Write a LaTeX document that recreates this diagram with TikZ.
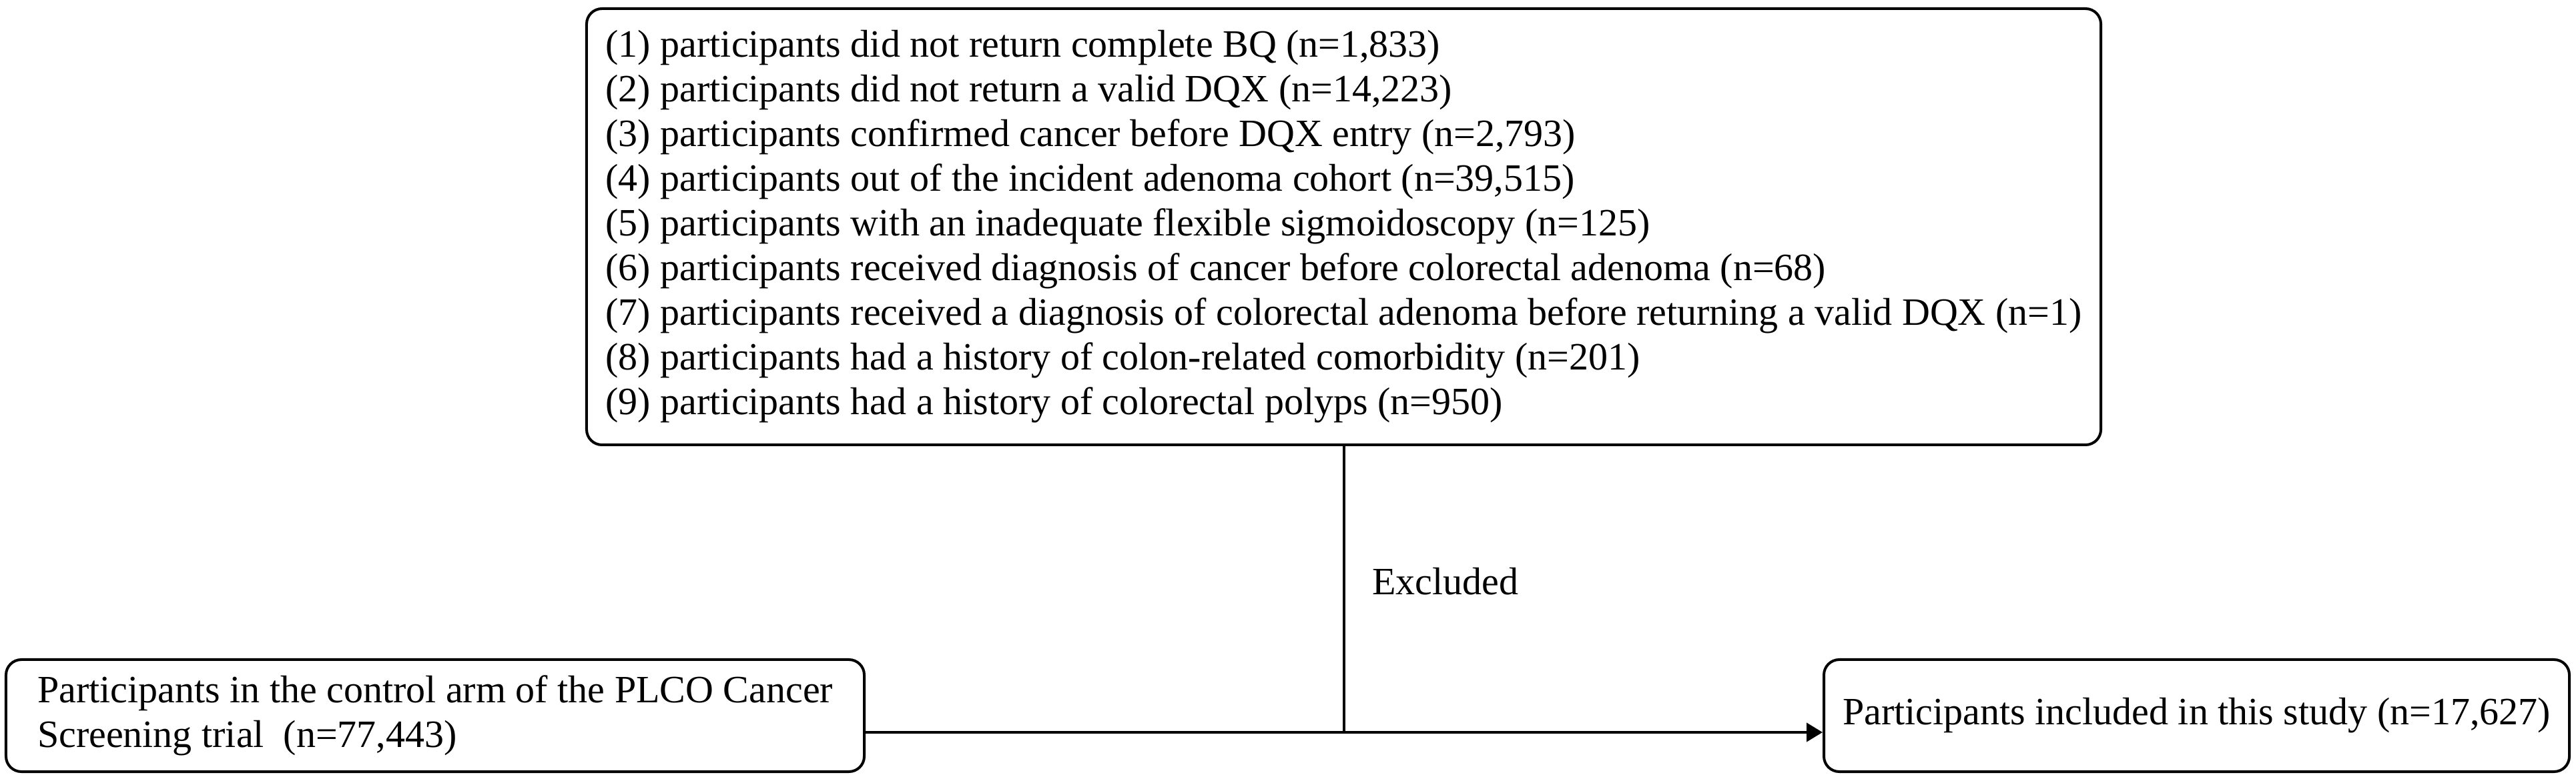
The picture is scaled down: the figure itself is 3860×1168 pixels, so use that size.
\documentclass[tikz,border=0pt]{standalone}
\usepackage{fontspec}
\setmainfont{Liberation Serif}
\usetikzlibrary{arrows.meta}
\begin{document}
\begin{tikzpicture}[x=0.2pt,y=-0.2pt,
  box/.style={draw=black, line width=0.8pt, rounded corners=4.6pt, align=left,
    font=\fontsize{11.6pt}{13.4pt}\selectfont, inner sep=0pt},
  conn/.style={draw=black, line width=0.8pt},
  lbl/.style={font=\fontsize{11.6pt}{13.4pt}\selectfont, inner sep=0pt}]
\useasboundingbox (0,0) rectangle (3860,1168);
\node[box, minimum width=453.8pt, minimum height=130.8pt] (top) at (2013.5,340) {%
(1) participants did not return complete BQ (n=1,833)\\
(2) participants did not return a valid DQX (n=14,223)\\
(3) participants confirmed cancer before DQX entry (n=2,793)\\
(4) participants out of the incident adenoma cohort (n=39,515)\\
(5) participants with an inadequate flexible sigmoidoscopy (n=125)\\
(6) participants received diagnosis of cancer before colorectal adenoma (n=68)\\
(7) participants received a diagnosis of colorectal adenoma before returning a valid DQX (n=1)\\
(8) participants had a history of colon-related comorbidity (n=201)\\
(9) participants had a history of colorectal polyps (n=950)};
\node[box, minimum width=257.2pt, minimum height=33.6pt] (left) at (652,1073) {%
Participants in the control arm of the PLCO Cancer\\
Screening trial~\ (n=77,443)};
\node[box, minimum width=223.4pt, minimum height=33.6pt] (right) at (3291.5,1073) {%
Participants included in this study (n=17,627)};
\coordinate (j) at (2013.5,1098);
\draw[conn] (top.south) -- (j);
\draw[conn, -{Triangle[length=4.8pt,width=5.6pt]}] (j -| left.east) -- (j -| right.west);
\node[lbl, anchor=base west] (excl) at (2055,892) {Excluded};
\end{tikzpicture}
\end{document}
